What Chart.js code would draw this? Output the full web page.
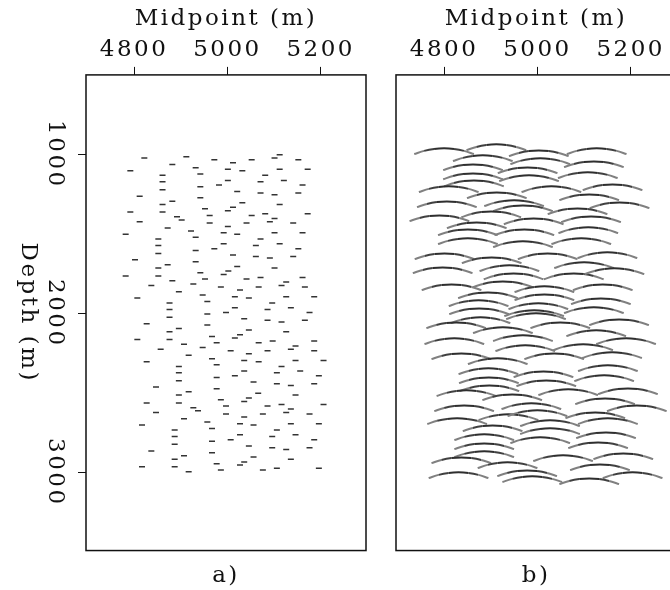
<!DOCTYPE html>
<html>
<head>
<meta charset="utf-8">
<script src="https://cdn.jsdelivr.net/npm/chart.js@4.4.1/dist/chart.umd.min.js"></script>
<style>
  html, body { margin: 0; padding: 0; background: #fff; overflow: hidden; width: 670px; height: 590px; }
  canvas { position: absolute; top: 0; }
  #panelA { left: 0; }
  #panelB { left: 380px; }
</style>
</head>
<body>
<canvas id="panelA" width="380" height="590"></canvas>
<canvas id="panelB" width="310" height="590"></canvas>
<script>
// Axis extents and tick values (metres)
const MIDPOINT_RANGE = [4697, 5297];
const DEPTH_RANGE = [500, 3492];
const MIDPOINT_TICKS = [4800, 5000, 5200];
const DEPTH_TICKS = [1000, 2000, 3000];

// a) short horizontal reflector segments
const DASH_MIDPOINT = [
    4822, 4912, 4972, 5012, 5052, 5101, 5112, 5152, 4882, 4792, 4932, 5001, 5032, 5112, 5172,
    4861, 4942, 5081, 4861, 5001, 5071, 5121, 4982, 5161, 4942, 4861, 5021, 5071, 5101, 5152,
    4812, 4942, 4882, 5032, 4861, 5112, 5012, 4952, 5001, 4792, 4861, 5081, 5172, 4962, 5052,
    4892, 5101, 4902, 4812, 4962, 5041, 5091, 5141, 5001, 4872, 4922, 4992, 5021, 5101, 5161,
    4782, 4932, 4852, 5071, 4852, 4992, 5061, 5112, 4972, 5152, 4932, 4852, 5012, 5061, 5091,
    5141, 4802,
    4932, 4872, 4852, 5021, 5101, 5002, 4942, 4992, 4782, 4852, 4952, 5041, 5071, 5161, 4882,
    5126, 4927, 4837, 4986, 5067, 5116, 5166, 5027, 4896, 4947, 4807, 5016, 5046, 5126, 5186,
    4957, 4876, 5096, 4876, 5016, 5086, 5136, 4957, 4997, 5176, 4876, 5036, 5086, 5116, 5166,
    4827, 4957, 4896, 4876, 5046, 5126, 5027, 4967, 5016, 4807, 4876, 5097, 4977, 5067, 5186,
    4907, 5146, 4947, 4857, 5007, 5086, 5136, 5186, 4917, 5046, 4967, 5036, 5146, 5206, 4827,
    5067, 4977, 4896, 5116,
    5036, 5156, 4896, 5106, 5016, 5196, 4977, 4896, 5056, 5106, 5136, 5186, 4847, 4977, 4917,
    5066, 4896, 5146, 4986, 5046, 5036, 4827, 4896, 5116, 5206, 4997, 5086, 4927, 5136, 4937,
    4847, 4997, 5076, 5126, 5176, 5036, 4907, 4957, 4817, 5027, 5056, 5136, 5196, 4967, 4887,
    5106, 4887, 5027, 5096, 5146, 5007, 5186, 4967, 4887, 5046, 5096, 5126, 5176, 4837, 4967,
    4907, 5056, 4887, 5136, 5036, 4977, 5027, 4817, 4887, 5106, 5196, 4917, 4986, 5076
];
const DASH_DEPTH = [
    1023, 1015, 1034, 1052, 1034, 1023, 1002, 1034, 1063, 1103, 1084, 1094, 1103, 1094, 1094,
    1132, 1124, 1132, 1172, 1164, 1172, 1164, 1193, 1193, 1203, 1222, 1233, 1243, 1254, 1243,
    1264, 1273, 1294, 1304, 1315, 1315, 1333, 1342, 1354, 1363, 1363, 1373, 1373, 1384, 1384,
    1392, 1403, 1413, 1424, 1432, 1432, 1424, 1432, 1453, 1463, 1482, 1493, 1503, 1493, 1493,
    1503, 1522, 1533, 1533, 1573, 1562, 1573, 1562, 1594, 1594, 1604, 1623, 1633, 1642, 1652,
    1642, 1663,
    1675, 1694, 1715, 1705, 1715, 1734, 1744, 1755, 1765, 1765, 1784, 1784, 1774, 1774, 1795,
    1803, 1816, 1824, 1834, 1834, 1824, 1834, 1853, 1864, 1885, 1904, 1895, 1904, 1895, 1895,
    1925, 1935, 1935, 1975, 1965, 1975, 1965, 2004, 1994, 1994, 2025, 2034, 2044, 2055, 2044,
    2065, 2074, 2095, 2115, 2105, 2115, 2134, 2145, 2155, 2164, 2164, 2174, 2185, 2185, 2174,
    2195, 2206, 2214, 2225, 2235, 2235, 2225, 2235, 2264, 2254, 2285, 2296, 2296, 2296, 2304,
    2304, 2323, 2334, 2334,
    2363, 2363, 2373, 2373, 2392, 2392, 2403, 2424, 2432, 2443, 2453, 2443, 2464, 2474, 2493,
    2503, 2514, 2514, 2543, 2533, 2554, 2564, 2564, 2573, 2573, 2583, 2583, 2594, 2602, 2612,
    2623, 2633, 2633, 2623, 2633, 2652, 2663, 2684, 2703, 2694, 2703, 2694, 2694, 2724, 2734,
    2734, 2774, 2763, 2774, 2763, 2795, 2795, 2805, 2824, 2835, 2845, 2856, 2845, 2866, 2877,
    2896, 2904, 2917, 2917, 2935, 2946, 2954, 2965, 2965, 2975, 2975, 2996, 2986, 2986
];

// b) apex of each impulse-response arc
const ARC_MIDPOINT = [
    4800, 4912, 5003, 5127, 4883, 5006, 5121, 4862, 4979, 5108, 4862, 4982, 4864, 4810, 5030,
    5161, 4913, 5111, 4806, 4950, 5176, 4969, 5086, 4901, 4790, 4870, 4992, 5115, 4851, 4972,
    5109, 4851, 4969, 5094,
    4801, 4902, 5022, 5150, 4797, 4940, 5100, 4949, 5078, 5165, 4816, 4926, 5015, 5140, 4894,
    5015, 4874, 5002, 5136, 4875, 4993, 5121, 4878, 4997, 4826, 4926, 5049, 5175, 4822, 4969,
    5126, 5190, 4974, 5098, 4837, 4915, 5036, 5160,
    4895, 5151, 5013, 4896, 5143, 5019, 4897, 4848, 4946, 5066, 5194, 5145, 4843, 4987, 5213,
    4938, 5000, 5124, 4828, 5027, 5151, 4904, 5027, 4886, 5006, 5147, 4886, 5130, 4886, 4837,
    4936, 5055, 5184, 5134, 4831, 4978, 5204, 4989, 5111
];
const ARC_DEPTH = [
    962, 937, 975, 962, 1006, 1025, 1044, 1063, 1082, 1113, 1120, 1132, 1164, 1201, 1201,
    1189, 1239, 1252, 1296, 1289, 1302, 1321, 1340, 1359, 1384, 1428, 1403, 1390, 1472, 1472,
    1459, 1528, 1547, 1528,
    1623, 1648, 1623, 1616, 1711, 1698, 1679, 1749, 1749, 1717, 1818, 1799, 1830, 1818, 1868,
    1881, 1918, 1937, 1906, 1969, 1981, 1962, 2025, 2000, 2057, 2088, 2057, 2038, 2157, 2138,
    2107, 2157, 2201, 2195, 2252, 2283, 2252, 2245,
    2346, 2327, 2365, 2403, 2390, 2422, 2453, 2484, 2510, 2478, 2472, 2535, 2579, 2566, 2579,
    2635, 2610, 2623, 2660, 2673, 2660, 2705, 2723, 2761, 2780, 2749, 2818, 2812, 2868, 2906,
    2937, 2893, 2881, 2950, 3000, 2988, 3000, 3025, 3038
];

// arc glyph: a parabola sampled at seven points around the apex
const ARC_HALF_WIDTH = 64;
const ARC_SAG = 36;
const ARC_PROFILE_X = [-1, -2 / 3, -1 / 3, 0, 1 / 3, 2 / 3, 1];
const ARC_PROFILE_Y = [1, 4 / 9, 1 / 9, 0, 1 / 9, 4 / 9, 1];
// stroke colour per segment, from the tips in towards the apex
const ARC_SHADES = ['#808080', '#404040', '#2e2e2e', '#2e2e2e', '#404040', '#808080'];

const FONT = "'DejaVu Serif', serif";
const FONT_SIZE = 23;
const INK = '#111';
const LETTER_SPACING = '2.5px';

/**
 * Frame around the plot area, plus the rotated depth labels
 */
const plotFrame = {
    id: 'plotFrame',
    beforeLayout(chart) {
        chart.ctx.letterSpacing = LETTER_SPACING;
    },
    beforeDraw(chart) {
        chart.ctx.letterSpacing = LETTER_SPACING;
    },
    afterDraw(chart, args, opts) {
        const { ctx, chartArea: a } = chart;
        ctx.save();
        ctx.strokeStyle = INK;
        ctx.lineWidth = 1.5;
        ctx.strokeRect(a.left, a.top, a.right - a.left, a.bottom - a.top);

        if (opts.depthLabels) {
            const yScale = chart.scales.y;
            ctx.fillStyle = INK;
            ctx.font = `${FONT_SIZE}px ${FONT}`;
            ctx.textAlign = 'center';
            ctx.textBaseline = 'middle';
            DEPTH_TICKS.forEach(v => {
                ctx.save();
                ctx.translate(55, yScale.getPixelForValue(v));
                ctx.rotate(Math.PI / 2);
                ctx.fillText(String(v), 0, 0);
                ctx.restore();
            });
            ctx.save();
            ctx.translate(28, (a.top + a.bottom) / 2);
            ctx.rotate(Math.PI / 2);
            ctx.fillText('Depth (m)', 0, 0);
            ctx.restore();
        }
        ctx.restore();
    }
};

function axisFont() {
    return { family: FONT, size: FONT_SIZE, lineHeight: 1.15 };
}

function buildScales(caption, showDepthTicks) {
    return {
        x: {
            type: 'linear',
            position: 'top',
            min: MIDPOINT_RANGE[0],
            max: MIDPOINT_RANGE[1],
            afterBuildTicks: s => { s.ticks = MIDPOINT_TICKS.map(v => ({ value: v })); },
            ticks: { color: INK, font: axisFont(), padding: 4, maxRotation: 0, callback: v => String(v) },
            grid: { drawOnChartArea: false, drawTicks: true, tickLength: 8, color: INK, lineWidth: 1 },
            border: { display: false },
            title: { display: true, text: 'Midpoint (m)', color: INK, font: axisFont(), padding: { top: 0, bottom: 0 } }
        },
        x2: {
            type: 'linear',
            axis: 'x',
            position: 'bottom',
            min: MIDPOINT_RANGE[0],
            max: MIDPOINT_RANGE[1],
            ticks: { display: false },
            grid: { display: false, drawTicks: false },
            border: { display: false },
            title: { display: true, text: caption, color: INK, font: axisFont(), padding: { top: 12, bottom: 1 } }
        },
        y: {
            type: 'linear',
            reverse: true,
            min: DEPTH_RANGE[0],
            max: DEPTH_RANGE[1],
            display: showDepthTicks,
            afterBuildTicks: s => { s.ticks = DEPTH_TICKS.map(v => ({ value: v })); },
            ticks: { display: false },
            grid: { drawOnChartArea: false, drawTicks: true, tickLength: 8, color: INK, lineWidth: 1 },
            border: { display: false }
        }
    };
}

// Panel a: reflector segments
const dashPoints = DASH_MIDPOINT.map((m, i) => ({ x: m, y: DASH_DEPTH[i] }));

new Chart(document.getElementById('panelA'), {
    type: 'scatter',
    data: {
        datasets: [{
            data: dashPoints,
            pointStyle: 'line',
            pointRadius: 3,
            borderWidth: 1.5,
            borderColor: '#333',
            backgroundColor: '#333'
        }]
    },
    options: {
        responsive: false,
        animation: false,
        events: [],
        layout: { padding: { left: 78, right: 14, top: 6, bottom: 0 } },
        plugins: {
            legend: { display: false },
            tooltip: { enabled: false },
            plotFrame: { depthLabels: true }
        },
        scales: buildScales('a)', true)
    },
    plugins: [plotFrame]
});

// Panel b: one arc per apex, separated by gaps
const ARC_STRIDE = ARC_PROFILE_X.length + 1;
const arcPoints = [];
ARC_MIDPOINT.forEach((m, i) => {
    ARC_PROFILE_X.forEach((dx, k) => {
        arcPoints.push({ x: m + dx * ARC_HALF_WIDTH, y: ARC_DEPTH[i] + ARC_PROFILE_Y[k] * ARC_SAG });
    });
    arcPoints.push({ x: m, y: null });
});

new Chart(document.getElementById('panelB'), {
    type: 'line',
    data: {
        datasets: [{
            data: arcPoints,
            showLine: true,
            spanGaps: false,
            pointRadius: 0,
            borderWidth: 2,
            borderColor: '#2e2e2e',
            cubicInterpolationMode: 'monotone',
            segment: {
                borderColor: ctx => ARC_SHADES[ctx.p0DataIndex % ARC_STRIDE] || '#2e2e2e'
            }
        }]
    },
    options: {
        responsive: false,
        animation: false,
        events: [],
        layout: { padding: { left: 16, right: 14, top: 6, bottom: 0 } },
        plugins: {
            legend: { display: false },
            tooltip: { enabled: false },
            plotFrame: { depthLabels: false }
        },
        scales: buildScales('b)', false)
    },
    plugins: [plotFrame]
});
</script>
</body>
</html>
